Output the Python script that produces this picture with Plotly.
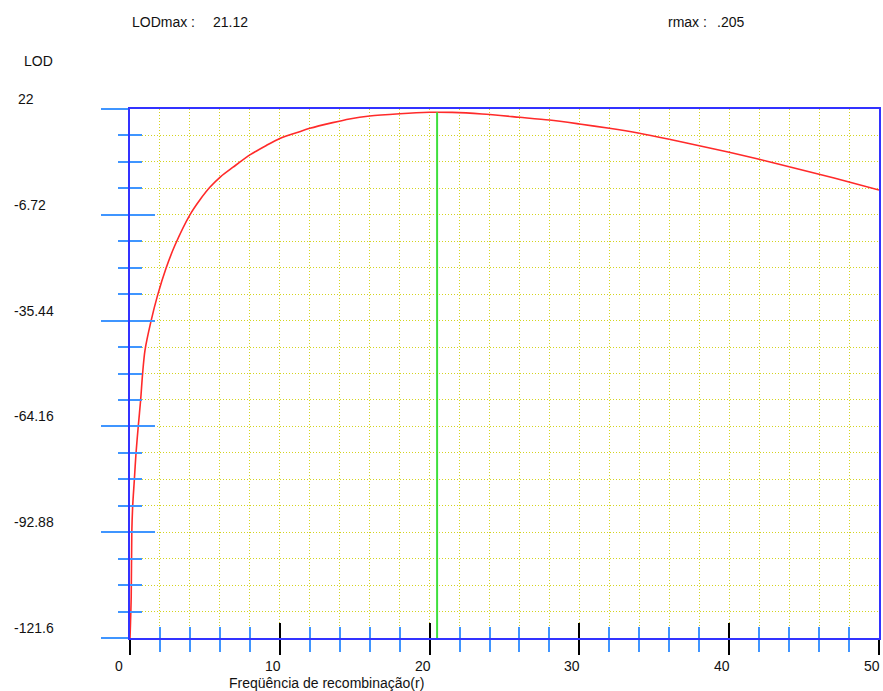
import plotly.graph_objects as go

# ---- data ----
r_percent = [0.0, 0.08, 0.12, 0.18, 0.29, 0.40, 0.55, 0.71, 0.84, 1.0, 1.38, 1.84, 2.4,
             3.0, 3.99, 4.66, 5.33, 6.04, 6.88, 8.03, 9.1, 10.0, 11.32, 12.0, 13.53,
             14.65, 16.0, 18.0, 20.0, 20.5, 21.5, 23.5, 26.0, 28.0, 30.0, 32.0, 34.0,
             36.0, 38.0, 40.0, 42.0, 44.0, 46.0, 48.0, 50.0]
lod_values = [-121.6, -110.5, -92.9, -85.7, -78.7, -71.5, -64.2, -57.0, -49.9, -43.5,
              -36.0, -28.6, -21.3, -15.0, -6.8, -2.7, 0.75, 3.6, 6.2, 9.6, 12.1, 14.0,
              15.85, 16.75, 18.3, 19.3, 20.1, 20.7, 21.1, 21.12, 21.08, 20.64, 19.75,
              19.0, 17.93, 16.76, 15.4, 13.77, 12.04, 10.24, 8.34, 6.3, 4.3, 2.2, 0.0]

lod_max = 21.12
r_max = 0.205

y_tick_vals = [22, -6.72, -35.44, -64.16, -92.88, -121.6]
y_tick_labels = ["22", "-6.72", "-35.44", "-64.16", "-92.88", "-121.6"]
x_tick_vals = [0, 10, 20, 30, 40, 50]
x_tick_labels = ["0", "10", "20", "30", "40", "50"]
x_minor_vals = [v for v in range(2, 50, 2) if v % 10 != 0]

y_range = [-121.6, 22]
x_range = [0, 50]

# ---- style ----
BLUE = "#3232ff"
LIGHT_BLUE = "#3f95ff"
GRID = "#d4d41e"
FONT = "Liberation Sans, Arial, sans-serif"

ys = sorted(y_tick_vals)
y_minor_vals = []
for a, b in zip(ys[:-1], ys[1:]):
    step = (b - a) / 4
    for k in (1, 2, 3):
        y_minor_vals.append(round(a + k * step, 4))

fig = go.Figure()
fig.add_trace(go.Scatter(x=r_percent, y=lod_values, mode="lines",
                         line=dict(color="#ff2a2a", width=1.6, shape="spline", smoothing=0.8),
                         xaxis="x", yaxis="y", showlegend=False, hoverinfo="skip"))
fig.add_trace(go.Scatter(x=[r_max * 100, r_max * 100], y=[lod_max, y_range[0]], mode="lines",
                         line=dict(color="#3ee03e", width=2),
                         xaxis="x2", yaxis="y2", showlegend=False, hoverinfo="skip"))

grid_dash = "1px,2px"
fig.update_layout(
    width=883, height=691,
    margin=dict(l=130, r=2, t=109, b=53),
    paper_bgcolor="white", plot_bgcolor="white",
    font=dict(family=FONT, size=14, color="#111111"),
    xaxis=dict(range=x_range, showline=True, linecolor=BLUE, linewidth=2, mirror=True,
               ticks="outside", ticklen=15, tickcolor="black", tickwidth=1.5,
               tickmode="array", tickvals=x_tick_vals, showticklabels=False,
               showgrid=True, gridcolor=GRID, gridwidth=1, griddash=grid_dash, zeroline=False,
               minor=dict(tickmode="array", tickvals=x_minor_vals, ticks="outside", ticklen=12,
                          tickcolor=LIGHT_BLUE, tickwidth=1.5, showgrid=True,
                          gridcolor=GRID, gridwidth=1, griddash=grid_dash)),
    xaxis2=dict(range=x_range, overlaying="x", anchor="y", side="bottom",
                showline=False, showgrid=False, zeroline=False,
                ticks="inside", ticklen=15, tickcolor="black", tickwidth=1.5,
                tickmode="array", tickvals=x_tick_vals, showticklabels=False,
                minor=dict(tickmode="array", tickvals=x_minor_vals, ticks="inside", ticklen=11,
                           tickcolor=LIGHT_BLUE, tickwidth=1.5, showgrid=False)),
    yaxis=dict(range=y_range, showline=True, linecolor=BLUE, linewidth=2, mirror=True,
               ticks="outside", ticklen=27, tickcolor=LIGHT_BLUE, tickwidth=1.5,
               tickmode="array", tickvals=y_tick_vals, showticklabels=False,
               showgrid=True, gridcolor=GRID, gridwidth=1, griddash=grid_dash, zeroline=False,
               minor=dict(tickmode="array", tickvals=y_minor_vals, ticks="outside", ticklen=10,
                          tickcolor=LIGHT_BLUE, tickwidth=1.5, showgrid=True,
                          gridcolor=GRID, gridwidth=1, griddash=grid_dash)),
    yaxis2=dict(range=y_range, overlaying="y", anchor="x", side="left",
                showline=False, showgrid=False, zeroline=False,
                ticks="inside", ticklen=25, tickcolor=LIGHT_BLUE, tickwidth=1.5,
                tickmode="array", tickvals=y_tick_vals, showticklabels=False,
                minor=dict(tickmode="array", tickvals=y_minor_vals, ticks="inside", ticklen=12,
                           tickcolor=LIGHT_BLUE, tickwidth=1.5, showgrid=False)),
)

W, H = 751.0, 529.0  # plot area size in px


def px_x(px):
    return (px - 130) / W


def px_y(py):
    return (638 - py) / H


ann = []
# y tick labels (left aligned)
for v, t in zip(y_tick_vals, y_tick_labels):
    ann.append(dict(text=t, x=px_x(12 if t.startswith("-") else 16), xref="paper",
                    y=v, yref="y", xanchor="left", yanchor="middle", yshift=10,
                    showarrow=False))
# x tick labels
for v, t in zip(x_tick_vals, x_tick_labels):
    ann.append(dict(text=t, x=v, xref="x", y=px_y(665.5), yref="paper",
                    xanchor="center", yanchor="middle", xshift=-11 if v == 0 else -7,
                    showarrow=False))
ann.append(dict(text="Freqüência de recombinação(r)", x=px_x(227), xref="paper",
                y=px_y(683), yref="paper", xanchor="left", yanchor="middle", showarrow=False))
ann.append(dict(text="LOD", x=px_x(22), xref="paper", y=px_y(61), yref="paper",
                xanchor="left", yanchor="middle", showarrow=False))
ann.append(dict(text="LODmax :", x=px_x(130), xref="paper", y=px_y(22), yref="paper",
                xanchor="left", yanchor="middle", showarrow=False))
ann.append(dict(text=f"{lod_max:.2f}", x=px_x(211), xref="paper", y=px_y(22), yref="paper",
                xanchor="left", yanchor="middle", showarrow=False))
ann.append(dict(text="rmax :", x=px_x(667), xref="paper", y=px_y(22), yref="paper",
                xanchor="left", yanchor="middle", showarrow=False))
ann.append(dict(text=f"{r_max:.3f}".lstrip("0"), x=px_x(717), xref="paper", y=px_y(22),
                yref="paper", xanchor="left", yanchor="middle", showarrow=False))
fig.update_layout(annotations=ann)

fig.write_html("out.html", config={"displayModeBar": False},
               post_script="document.body.style.margin='0px';")
